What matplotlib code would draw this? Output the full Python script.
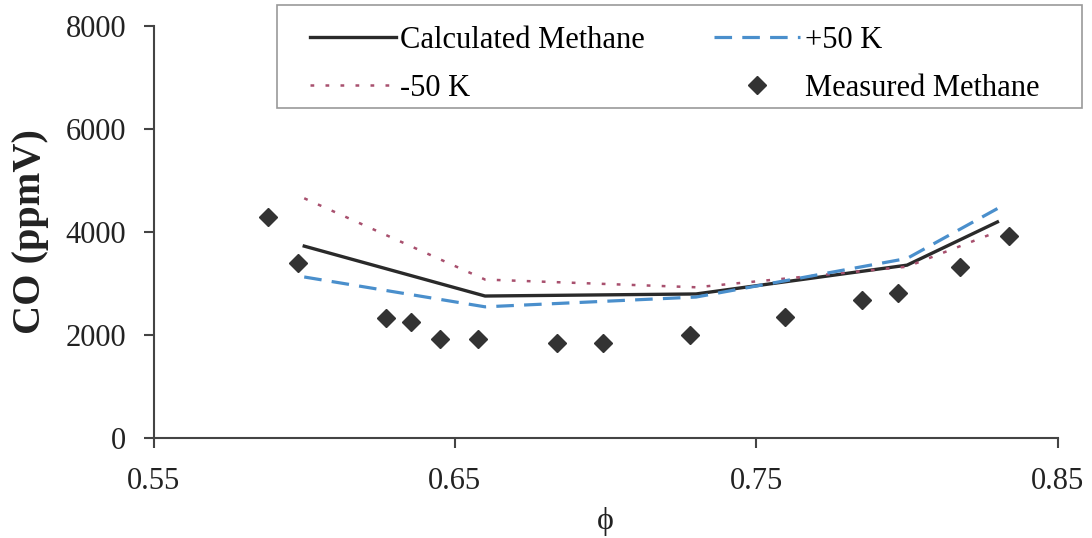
import matplotlib
matplotlib.use("Agg")
import matplotlib.pyplot as plt
from matplotlib.patches import Rectangle

# Calculated curves
calc_x = [0.60, 0.66, 0.73, 0.80, 0.83]
calc_y = [3720, 2750, 2790, 3350, 4190]
plus50_x = [0.60, 0.66, 0.73, 0.80, 0.83]
plus50_y = [3120, 2540, 2730, 3480, 4450]
minus50_x = [0.60, 0.66, 0.73, 0.80, 0.83]
minus50_y = [4650, 3070, 2920, 3320, 4000]

# Measured
meas_x = [0.588, 0.598, 0.627, 0.6355, 0.645, 0.6575, 0.684, 0.699,
          0.728, 0.7595, 0.785, 0.797, 0.8175, 0.834]
meas_y = [4290, 3395, 2315, 2237, 1913, 1907, 1829, 1841,
          1991, 2334, 2670, 2800, 3317, 3913]

xticks = [0.55, 0.65, 0.75, 0.85]
xtick_labels = ["0.55", "0.65", "0.75", "0.85"]
yticks = [0, 2000, 4000, 6000, 8000]

plt.rcParams['font.family'] = ['Liberation Serif', 'DejaVu Serif']

W, H = 1092, 538
fig = plt.figure(figsize=(W / 100, H / 100), dpi=100)
ax = fig.add_axes([0.1406, 0.1868, 0.828, 0.765])

ax.plot(calc_x, calc_y, color='#2a2a2a', lw=2.4, label='Calculated Methane')
ax.plot(minus50_x, minus50_y, color='#a8506e', lw=1.8, linestyle=(0, (1.5, 4.5)),
        label='-50 K')
ax.plot(plus50_x, plus50_y, color='#4a8fcc', lw=2.3, linestyle=(0, (5.5, 3.2)),
        label='+50 K')
ax.plot(meas_x, meas_y, linestyle='none', marker='D', ms=9, color='#333333',
        label='Measured Methane')

ax.set_xlim(0.55, 0.85)
ax.set_ylim(0, 8000)
ax.set_xticks(xticks)
ax.set_xticklabels(xtick_labels)
ax.set_yticks(yticks)
for s in ['top', 'right']:
    ax.spines[s].set_visible(False)
for s in ['left', 'bottom']:
    ax.spines[s].set_color('#444444')
    ax.spines[s].set_linewidth(1.5)
ax.tick_params(axis='both', direction='out', length=7.5, width=1.5, color='#444444',
               labelsize=22, labelcolor='#222222')
ax.tick_params(axis='x', pad=14)
ax.tick_params(axis='y', pad=12)

ax.set_ylabel('CO (ppmV)', fontsize=29, fontweight='bold', labelpad=12, color='#222222')
ax.set_xlabel('ϕ', fontsize=23, labelpad=8, color='#222222')

handles, labels = ax.get_legend_handles_labels()
leg = fig.legend(handles, labels,
                 ncol=2, loc='center left',
                 bbox_to_anchor=(310 / W, 1 - 64.5 / H),
                 fontsize=22, frameon=False, borderaxespad=0, borderpad=0,
                 handlelength=2.8, handletextpad=0.16, labelspacing=0.61,
                 columnspacing=2.26)
fig.patches.append(Rectangle((277 / W, 1 - 108 / H), (1082 - 277) / W, 103 / H,
                             transform=fig.transFigure, fill=False,
                             edgecolor='#999999', lw=1.2))

fig.savefig('out.png', dpi=100)
